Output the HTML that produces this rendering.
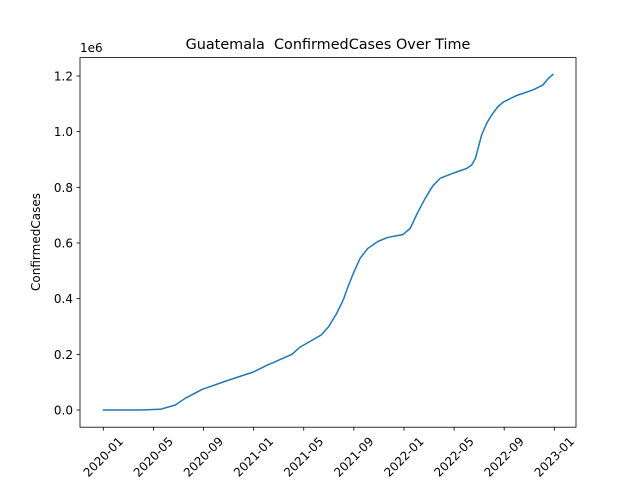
<!DOCTYPE html>
<html><head><meta charset="utf-8"><style>
body{margin:0;background:#fff;}
svg text{font-family:"DejaVu Sans","Liberation Sans",sans-serif;fill:#000;}
</style></head><body>
<svg id="chart" width="640" height="480" viewBox="0 0 640 480">
<rect x="80" y="57.6" width="496" height="369.6" fill="none" stroke="#000" stroke-width="0.8"/>
<text x="328" y="49" font-size="14.4" text-anchor="middle">Guatemala&#160; ConfirmedCases Over Time</text>
<text x="80" y="52" font-size="12">1e6</text>
<text transform="translate(40,242) rotate(-90)" font-size="12" text-anchor="middle">ConfirmedCases</text>
<g id="ticks"></g>
<path id="line" fill="none" stroke="#1f77b4" stroke-width="1.5" stroke-linejoin="round" stroke-linecap="round"/>
</svg>
<script>
// months since 2020-01
const months = [0,3,4.55,5.75,6.54,7.88,9.6,12,12.93,15.06,15.7,16.5,17.4,18,18.6,19.15,19.55,19.95,20.5,21.1,21.9,22.7,23.9,24.5,25.1,25.7,26.3,26.9,28,29.0,29.4,29.7,30.2,30.6,31.0,31.5,31.95,33,34.3,35.1,35.5,35.9];
// cases in millions
const cases = [0,0,0.0025,0.018,0.042,0.074,0.101,0.137,0.158,0.2,0.226,0.246,0.27,0.30,0.345,0.395,0.445,0.49,0.545,0.58,0.605,0.62,0.63,0.653,0.71,0.761,0.805,0.833,0.852,0.868,0.88,0.904,0.988,1.03,1.06,1.09,1.107,1.13,1.15,1.168,1.19,1.206];
const yTicks = [0,0.2,0.4,0.6,0.8,1.0,1.2];
const yTickLabels = ["0.0","0.2","0.4","0.6","0.8","1.0","1.2"];
const xTicks = [0,4,8,12,16,20,24,28,32,36];
const xTickLabels = ["2020-01","2020-05","2020-09","2021-01","2021-05","2021-09","2022-01","2022-05","2022-09","2023-01"];

const xs = m => 103.3 + m * (451/36);
const ys = v => 410 - v * (334/1.2);
const NS = "http://www.w3.org/2000/svg";
const g = document.getElementById('ticks');
let d = "";
months.forEach((m,i)=>{ d += (i?"L":"M") + xs(m).toFixed(2) + "," + ys(cases[i]).toFixed(2); });
document.getElementById('line').setAttribute('d', d);
yTicks.forEach((v,i)=>{
  const l = document.createElementNS(NS,'line');
  l.setAttribute('x1',76.5); l.setAttribute('x2',80); l.setAttribute('y1',ys(v)); l.setAttribute('y2',ys(v));
  l.setAttribute('stroke','#000'); l.setAttribute('stroke-width','0.8');
  
  
  g.appendChild(l);
  const t = document.createElementNS(NS,'text');
  t.setAttribute('x',73); t.setAttribute('y',ys(v)+4.5); t.setAttribute('font-size','12'); t.setAttribute('text-anchor','end');
  t.textContent = yTickLabels[i];
  
  
  g.appendChild(t);
});
xTicks.forEach((m,i)=>{
  const x = xs(m);
  const l = document.createElementNS(NS,'line');
  l.setAttribute('x1',x); l.setAttribute('x2',x); l.setAttribute('y1',427.2); l.setAttribute('y2',430.7);
  l.setAttribute('stroke','#000'); l.setAttribute('stroke-width','0.8');
  
  
  g.appendChild(l);
  const t = document.createElementNS(NS,'text');
  const cy = 457;
  t.setAttribute('x',x); t.setAttribute('y',cy+4); t.setAttribute('font-size','12'); t.setAttribute('text-anchor','middle');
  t.setAttribute('transform','rotate(-45 '+x+' '+cy+')');
  t.textContent = xTickLabels[i];
  
  
  g.appendChild(t);
});
</script>
</body></html>
